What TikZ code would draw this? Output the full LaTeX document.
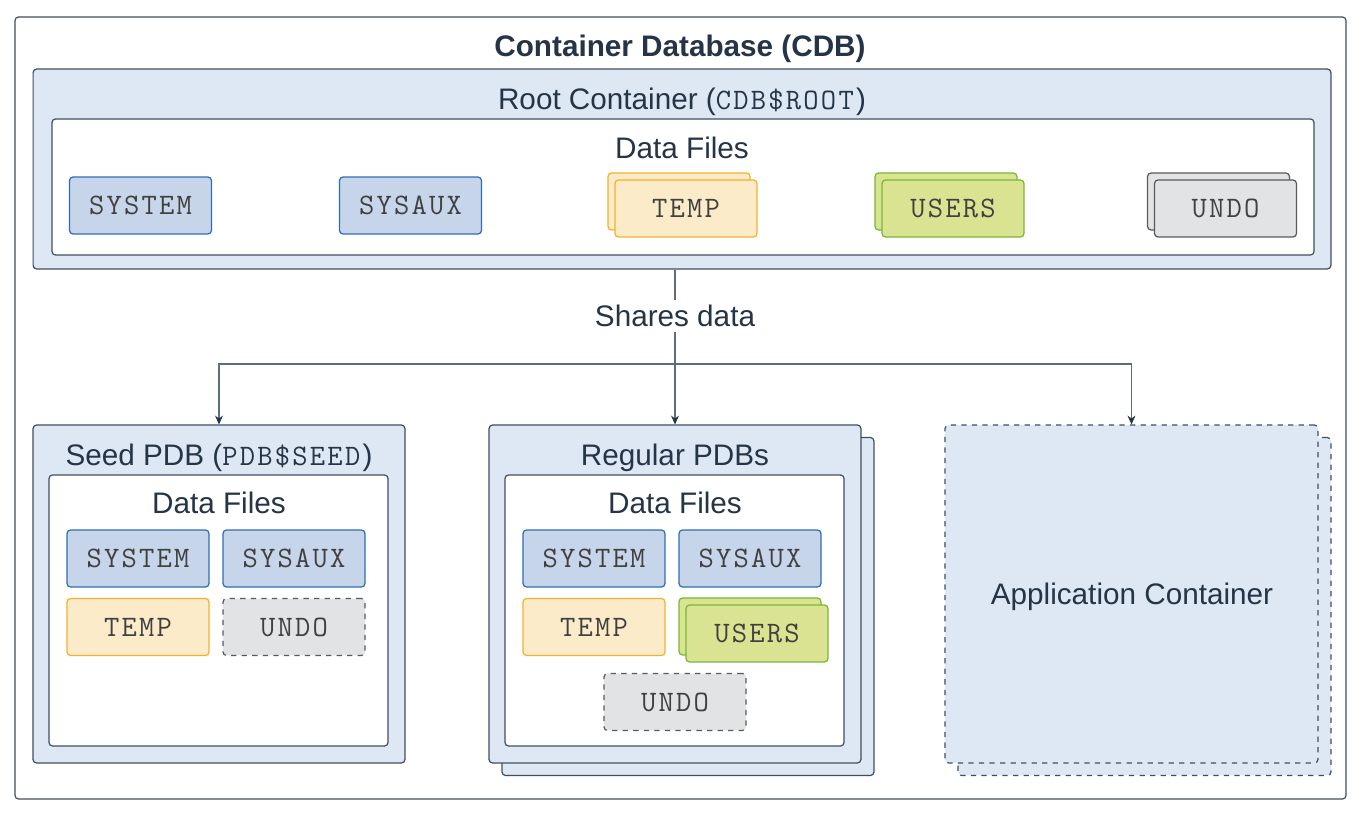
\documentclass[tikz,border=0pt]{standalone}
\usepackage{fontspec}
\setmainfont{Liberation Sans}
\setmonofont{Latin Modern Mono}[LetterSpace=7.5]
\usetikzlibrary{arrows.meta,positioning,calc}

\definecolor{ink}{HTML}{253446}
\definecolor{edge}{HTML}{3F4F60}
\definecolor{wire}{HTML}{5D6D7E}
\definecolor{contfill}{HTML}{DDE8F4}
\definecolor{sysfill}{HTML}{C6D5EA}
\definecolor{sysedge}{HTML}{2D6EB3}
\definecolor{tempfill}{HTML}{FCEBC8}
\definecolor{tempedge}{HTML}{F3B12B}
\definecolor{usrfill}{HTML}{D9E391}
\definecolor{usredge}{HTML}{7BB534}
\definecolor{undofill}{HTML}{E2E3E5}
\definecolor{undoedge}{HTML}{5A5A5A}

\newcommand{\labelfont}{\fontsize{16.9}{20}\selectfont}

\tikzset{
	txt/.style={text=ink,font=\labelfont,inner sep=0pt,text height=12.1pt,text depth=0pt},
	cont/.style={draw=edge,fill=contfill,line width=0.7pt,rounded corners=2pt,
		minimum width=7.44cm,minimum height=6.76cm,inner sep=0pt},
	inner/.style={draw=edge,fill=white,line width=0.7pt,rounded corners=2pt},
	file/.style={draw,line width=0.7pt,rounded corners=2pt,minimum width=2.84cm,
		minimum height=1.14cm,inner sep=0pt,text=black!75,font=\labelfont\ttfamily,
		text height=10.5pt,text depth=0pt},
	sysf/.style={file,fill=sysfill,draw=sysedge},
	tempf/.style={file,fill=tempfill,draw=tempedge},
	usrf/.style={file,fill=usrfill,draw=usredge},
	undof/.style={file,fill=undofill,draw=undoedge},
	wire/.style={draw=wire,line width=0.6pt},
	arr/.style={wire,-{Stealth[length=5pt,width=4.5pt,color=ink]}}
}

\begin{document}
\begin{tikzpicture}[x=0.02cm,y=-0.02cm]
	\useasboundingbox (0,0) rectangle (1366,820);
	
	% CDB
	\draw[draw=edge,line width=0.7pt,rounded corners=2pt] (15,17) rectangle (1346,799);
	\node[txt,font=\labelfont\bfseries] (title) at (680,46) {Container Database (CDB)};
	
	% root container
	\node[cont,minimum width=25.96cm,minimum height=4cm] (root) at (682,169) {};
	\node[txt] (rootlbl) at (682,99) {Root Container (\texttt{CDB\$ROOT})};
	\draw[inner] (52,119) rectangle (1314,255);
	\node[txt] (rootdf) at (682,148) {Data Files};
	
	\node[sysf] (rsystem) at (140.5,205.5) {SYSTEM};
	\node[sysf] (rsysaux) at (410.5,205.5) {SYSAUX};
	\node[tempf] (rtempb) at (679,201.5) {};
	\node[tempf] (rtemp) at (686,208.5) {TEMP};
	\node[usrf] (rusersb) at (946,201.5) {};
	\node[usrf] (rusers) at (953,208.5) {USERS};
	\node[undof] (rundob) at (1218.5,201.5) {};
	\node[undof] (rundo) at (1225.5,208.5) {UNDO};
	
	% seed PDB
	\node[cont] (seed) at (219,594) {};
	\node[txt] (seedlbl) at (219,455) {Seed PDB (\texttt{PDB\$SEED})};
	\draw[inner] (49,475) rectangle (388,746);
	\node[txt] (seeddf) at (219,503) {Data Files};
	
	\node[sysf] (ssystem) at (138,558.5) {SYSTEM};
	\node[sysf] (ssysaux) at (294,558.5) {SYSAUX};
	\node[tempf] (stemp) at (138,627) {TEMP};
	\node[undof,dashed] (sundo) at (294,627) {UNDO};
	
	% regular PDBs
	\node[cont] (regularb) at (688,606.5) {};
	\node[cont] (regular) at (675,594) {};
	\node[txt] (reglbl) at (675,455) {Regular PDBs};
	\draw[inner] (505,475) rectangle (844,746);
	\node[txt] (regdf) at (675,503) {Data Files};
	
	\node[sysf] (gsystem) at (594,558.5) {SYSTEM};
	\node[sysf] (gsysaux) at (750,558.5) {SYSAUX};
	\node[tempf] (gtemp) at (594,627) {TEMP};
	\node[usrf] (gusersb) at (750,626.5) {};
	\node[usrf] (gusers) at (757,633.5) {USERS};
	\node[undof,dashed] (gundo) at (675,702) {UNDO};
	
	% application container
	\node[cont,dashed,minimum width=7.46cm] (appb) at (1144.5,606.5) {};
	\node[cont,dashed,minimum width=7.46cm] (app) at (1131.5,594) {};
	\node[txt] (applbl) at (1132,594) {Application Container};
	
	% connectors
	\node[txt,fill=white,inner sep=3pt] (share) at (675,316) {Shares data};
	\coordinate (fork) at (675,364);
	\draw[wire] (root.south -| share) -- (share);
	\draw[arr] (share) -- (regular.north);
	\draw[arr] (fork) -| (seed.north);
	\draw[arr] (fork) -| (app.north);
\end{tikzpicture}
\end{document}
